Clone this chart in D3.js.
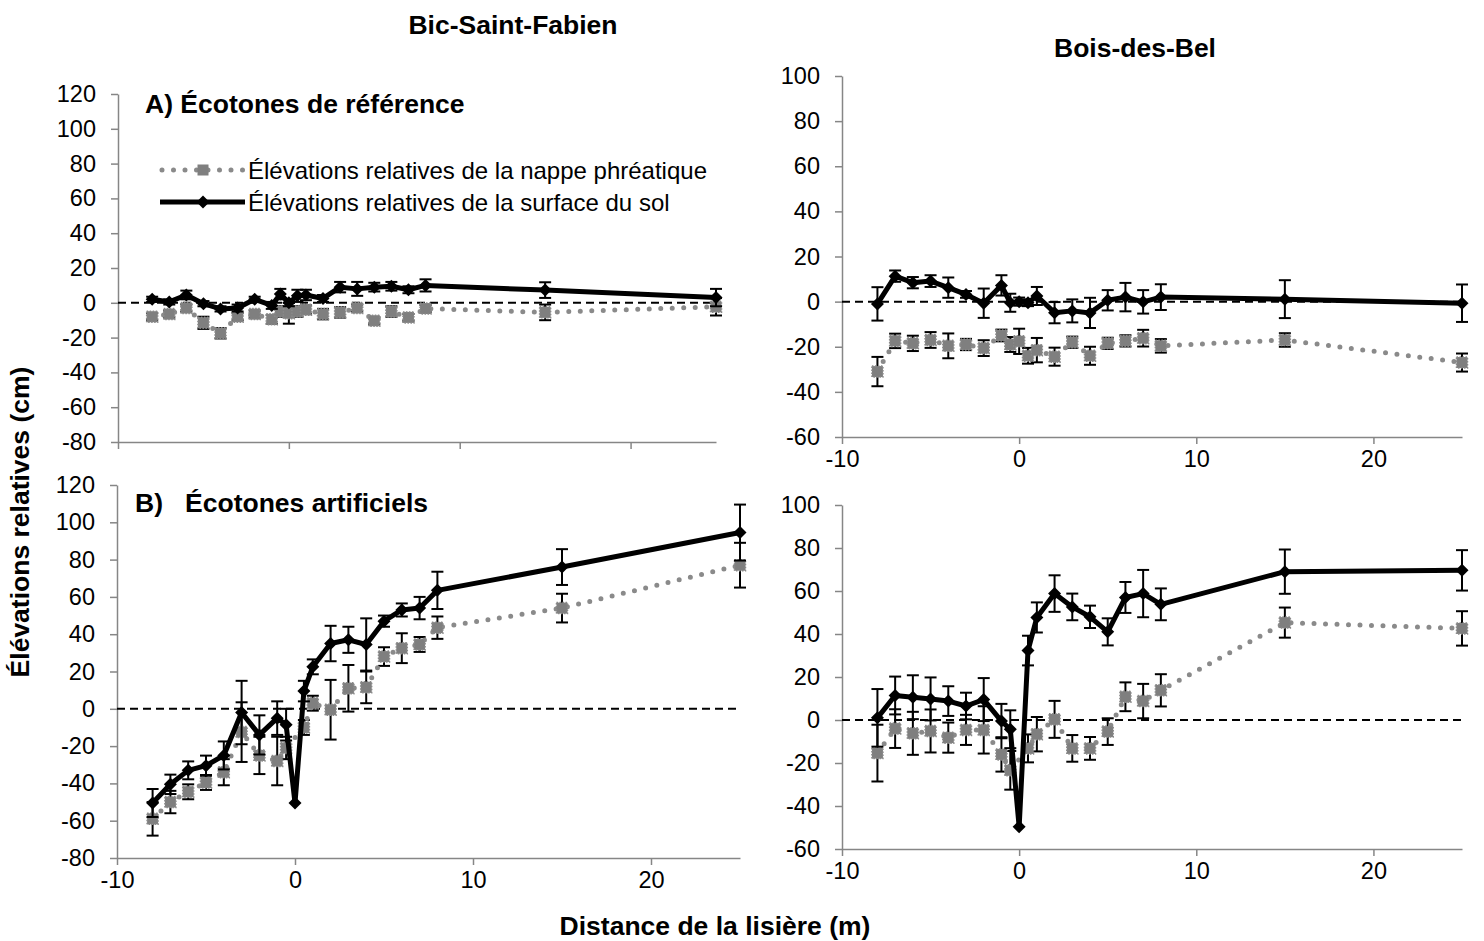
<!DOCTYPE html>
<html>
<head>
<meta charset="utf-8">
<script src="https://cdnjs.cloudflare.com/ajax/libs/d3/7.8.5/d3.min.js"></script>
<style>
  body { margin: 0; background: #fff; }
  text { font-family: "Liberation Sans", Arial, sans-serif; fill: #000; }
</style>
</head>
<body>
<div class="canvas"></div>
<script>
// distance from the edge (m), shared by every panel
const distances = [-8, -7, -6, -5, -4, -3, -2, -1, -0.5, 0, 0.5, 1, 2, 3, 4, 5, 6, 7, 8, 15, 25];

// Bic-Saint-Fabien, reference ecotones
const bicRefSoil = [2, 0.5, 4.5, -0.5, -3.5, -3, 2, -1.5, 5, 0, 4, 4.5, 2.5, 9, 8, 9, 9.5, 7.5, 10, 7.3, 3];
const bicRefSoilErr = [1.5, 1.5, 2.5, 1.5, 1.5, 2, 1.5, 2, 3, 2, 3.5, 3, 2, 3, 4, 2.5, 2.5, 2, 3.5, 4.5, 5];
const bicRefWater = [-8, -6.5, -3, -11.5, -17.5, -8, -6.5, -9.5, -5, -6, -5, -4, -6.5, -5.5, -3, -10.3, -5, -8.4, -3.3, -5.5, -2.3];
const bicRefWaterErr = [2, 2, 2, 3.5, 3, 2, 2, 2.5, 3, 6, 3, 2.5, 3, 3, 2, 2, 3, 2, 2, 4.5, 5];

// Bic-Saint-Fabien, artificial ecotones
const bicArtSoil = [-50.5, -40.5, -33, -30.5, -25, -2, -14, -5, -8.5, -50.5, 9.5, 22.5, 35, 37, 34.5, 47, 53, 54, 63.5, 76, 94.5];
const bicArtSoilErr = [7.5, 5.2, 4.8, 5.4, 7.5, 17, 10.5, 9, 8.5, 0, 5.5, 4, 9.5, 7, 14, 3, 3.5, 6, 10, 9.6, 15];
const bicArtWater = [-59, -50, -44.5, -39.5, -34, -12.5, -25, -28, -21, null, -10, 3, -0.5, 11, 11.5, 28, 32.5, 34.5, 43.5, 54, 77];
const bicArtWaterErr = [9, 6, 4, 4, 7, 16, 10, 13, 6, 0, 4, 4, 16, 12.5, 8.5, 5, 8, 4, 6, 7.7, 12];

// Bois-des-Bel, reference ecotones
const bdbRefSoil = [-1, 11.3, 8.4, 9.1, 6.2, 3.2, -0.7, 7.2, -0.5, 0, -0.5, 2.5, -4.9, -4.1, -5, 0.6, 2, -0.1, 2, 1.1, -0.7];
const bdbRefSoilErr = [7.4, 2.5, 2.5, 2.6, 4.5, 1.5, 6.5, 4.5, 4, 1.8, 1.5, 4, 4.7, 5.1, 6.7, 4.5, 6.3, 5.2, 5.7, 8.4, 8.3];
const bdbRefWater = [-31, -17.4, -18.5, -17, -19.6, -19, -20.6, -15, -19, -17.6, -24, -21.5, -24.4, -18, -24, -18.5, -17.4, -16.2, -19.6, -17, -27];
const bdbRefWaterErr = [6.5, 3.2, 3.4, 3.5, 5.5, 2.5, 3.5, 2.6, 3.3, 5.6, 3.5, 5.4, 4, 2.5, 4, 2.5, 2.5, 3.7, 3, 3, 4];

// Bois-des-Bel, artificial ecotones
const bdbArtSoil = [1, 11.4, 10.6, 9.8, 8.8, 6.5, 9.5, -0.5, -4.3, -49.7, 32.3, 47.7, 58.8, 52.6, 48, 41, 57, 58.8, 53.8, 69, 69.6];
const bdbArtSoilErr = [13.4, 8.8, 10.2, 10, 6.9, 6.2, 10, 8, 8.8, 0, 6.9, 7, 8.5, 6.2, 5.2, 6.3, 7.2, 11, 7.4, 10.3, 9.4];
const bdbArtWater = [-15.4, -4, -6.2, -5.1, -8.2, -4.6, -4.6, -16, -23.4, null, -13.2, -6.6, 0.3, -13.2, -13.2, -5.4, 10.8, 8.8, 13.8, 45.3, 42.6];
const bdbArtWaterErr = [13.2, 9, 10, 10, 7, 7, 11, 8, 9, 0, 6.5, 8, 8.6, 6.2, 5.3, 6.2, 6.7, 8, 7.5, 7, 8];

// tick labels
const xTicks = [-10, 0, 10, 20];
const bicYTicks = [-80, -60, -40, -20, 0, 20, 40, 60, 80, 100, 120];
const bdbYTicks = [-60, -40, -20, 0, 20, 40, 60, 80, 100];

const legendLabels = ['Élévations relatives de la nappe phréatique', 'Élévations relatives de la surface du sol'];

const svgWidth = 1484;
const svgHeight = 941;
const axisColor = '#868686';
const waterColor = '#8a8a8a';

const svg = d3.select('.canvas')
    .append('svg')
        .attr('width', svgWidth)
        .attr('height', svgHeight);

svg.append('rect')
    .attr('width', svgWidth)
    .attr('height', svgHeight)
    .attr('fill', '#fff');

const panels = [
    { soil: bicRefSoil, soilErr: bicRefSoilErr, water: bicRefWater, waterErr: bicRefWaterErr,
      yTicks: bicYTicks, xRange: [118, 716], yRange: [442, 94], showX: false },
    { soil: bicArtSoil, soilErr: bicArtSoilErr, water: bicArtWater, waterErr: bicArtWaterErr,
      yTicks: bicYTicks, xRange: [117, 740], yRange: [858, 485], showX: true },
    { soil: bdbRefSoil, soilErr: bdbRefSoilErr, water: bdbRefWater, waterErr: bdbRefWaterErr,
      yTicks: bdbYTicks, xRange: [842, 1462], yRange: [437, 76], showX: true },
    { soil: bdbArtSoil, soilErr: bdbArtSoilErr, water: bdbArtWater, waterErr: bdbArtWaterErr,
      yTicks: bdbYTicks, xRange: [842, 1462], yRange: [849, 505], showX: true }
];

const diamond = 'M0,-6.5L6.5,0L0,6.5L-6.5,0Z';

const drawPanel = (p) => {

    const x = d3.scaleLinear().domain([-10, 25]).range(p.xRange);
    const y = d3.scaleLinear().domain(d3.extent(p.yTicks)).range(p.yRange);

    const g = svg.append('g');

    // axes (plain hyphen for negatives, like the original)
    const yAxis = d3.axisLeft(y)
        .tickValues(p.yTicks)
        .tickSize(7)
        .tickSizeOuter(0)
        .tickPadding(15)
        .tickFormat(d => String(d));
    const xAxis = d3.axisBottom(x)
        .tickValues(xTicks)
        .tickSize(7)
        .tickSizeOuter(0)
        .tickPadding(6)
        .tickFormat(d => p.showX ? String(d) : '');

    const yAxisGroup = g.append('g')
        .attr('transform', `translate(${p.xRange[0]},0)`)
        .call(yAxis);
    const xAxisGroup = g.append('g')
        .attr('transform', `translate(0,${p.yRange[0]})`)
        .call(xAxis);

    [yAxisGroup, xAxisGroup].forEach(ag => {
        ag.select('.domain').attr('stroke', axisColor).attr('stroke-width', 1.5);
        ag.selectAll('.tick line').attr('stroke', axisColor).attr('stroke-width', 1.5);
        ag.selectAll('text')
            .attr('font-size', 23.5)
            .attr('font-family', '"Liberation Sans", Arial, sans-serif')
            .attr('fill', '#000');
    });

    // zero reference line
    g.append('line')
        .attr('x1', x(-10))
        .attr('x2', x(25))
        .attr('y1', y(0))
        .attr('y2', y(0))
        .attr('stroke', '#000')
        .attr('stroke-width', 2)
        .attr('stroke-dasharray', '8 5');

    const series = [
        { values: p.water, errs: p.waterErr, kind: 'water' },
        { values: p.soil, errs: p.soilErr, kind: 'soil' }
    ];

    series.forEach(s => {
        const pts = distances
            .map((d, i) => ({ x: d, v: s.values[i], e: s.errs[i] }))
            .filter(d => d.v != null);

        const line = d3.line()
            .x(d => x(d.x))
            .y(d => y(d.v));

        // error bars
        const bars = g.append('g').selectAll('g')
            .data(pts.filter(d => d.e > 0))
            .enter().append('g')
                .attr('stroke', '#000')
                .attr('stroke-width', 2);
        bars.append('line')
            .attr('x1', d => x(d.x)).attr('x2', d => x(d.x))
            .attr('y1', d => y(d.v - d.e)).attr('y2', d => y(d.v + d.e));
        bars.append('line')
            .attr('x1', d => x(d.x) - 6).attr('x2', d => x(d.x) + 6)
            .attr('y1', d => y(d.v + d.e)).attr('y2', d => y(d.v + d.e));
        bars.append('line')
            .attr('x1', d => x(d.x) - 6).attr('x2', d => x(d.x) + 6)
            .attr('y1', d => y(d.v - d.e)).attr('y2', d => y(d.v - d.e));

        if (s.kind == 'water') {
            g.append('path')
                .datum(pts)
                .attr('fill', 'none')
                .attr('stroke', waterColor)
                .attr('stroke-width', 5)
                .attr('stroke-linecap', 'round')
                .attr('stroke-dasharray', '0 11.5')
                .attr('d', line);
            g.append('g').selectAll('rect')
                .data(pts)
                .enter().append('rect')
                    .attr('x', d => x(d.x) - 5.5)
                    .attr('y', d => y(d.v) - 5.5)
                    .attr('width', 11)
                    .attr('height', 11)
                    .attr('fill', '#7f7f7f')
                    .attr('stroke', waterColor)
                    .attr('stroke-width', 1.5)
                    .attr('stroke-dasharray', '1.5 1.5');
        } else {
            g.append('path')
                .datum(pts)
                .attr('fill', 'none')
                .attr('stroke', '#000')
                .attr('stroke-width', 5)
                .attr('stroke-linejoin', 'round')
                .attr('d', line);
            g.append('g').selectAll('path')
                .data(pts)
                .enter().append('path')
                    .attr('d', diamond)
                    .attr('transform', d => `translate(${x(d.x)},${y(d.v)})`)
                    .attr('fill', '#000');
        }
    });
}

panels.forEach(drawPanel);

// titles and labels
const addText = (txt, xPos, yPos, size, bold, anchor) => svg.append('text')
    .attr('x', xPos)
    .attr('y', yPos)
    .attr('font-size', size)
    .attr('font-weight', bold ? 'bold' : 'normal')
    .attr('text-anchor', anchor || 'start')
    .attr('dominant-baseline', 'central')
    .style('white-space', 'pre')
    .text(txt);

addText('Bic-Saint-Fabien', 513, 25, 26.5, true, 'middle');
addText('Bois-des-Bel', 1135, 48, 26.5, true, 'middle');
addText('A) Écotones de référence', 145, 104, 26.5, true);
addText('B)   Écotones artificiels', 135, 503, 26.5, true);
addText('Distance de la lisière (m)', 715, 926, 26.5, true, 'middle');

svg.append('text')
    .attr('transform', 'translate(20,522) rotate(-90)')
    .attr('font-size', 26.5)
    .attr('font-weight', 'bold')
    .attr('text-anchor', 'middle')
    .attr('dominant-baseline', 'central')
    .text('Élévations relatives (cm)');

// legend
const legend = svg.append('g');
legend.append('line')
    .attr('x1', 162).attr('x2', 244).attr('y1', 170).attr('y2', 170)
    .attr('stroke', waterColor)
    .attr('stroke-width', 5)
    .attr('stroke-linecap', 'round')
    .attr('stroke-dasharray', '0 11.5');
legend.append('rect')
    .attr('x', 197.5).attr('y', 164.5).attr('width', 11).attr('height', 11)
    .attr('fill', '#7f7f7f');
legend.append('line')
    .attr('x1', 160).attr('x2', 245).attr('y1', 202).attr('y2', 202)
    .attr('stroke', '#000')
    .attr('stroke-width', 5);
legend.append('path')
    .attr('d', diamond)
    .attr('transform', 'translate(203,202)');

legendLabels.forEach((l, i) => addText(l, 248, 170 + i * 32, 24, false));
</script>
</body>
</html>
